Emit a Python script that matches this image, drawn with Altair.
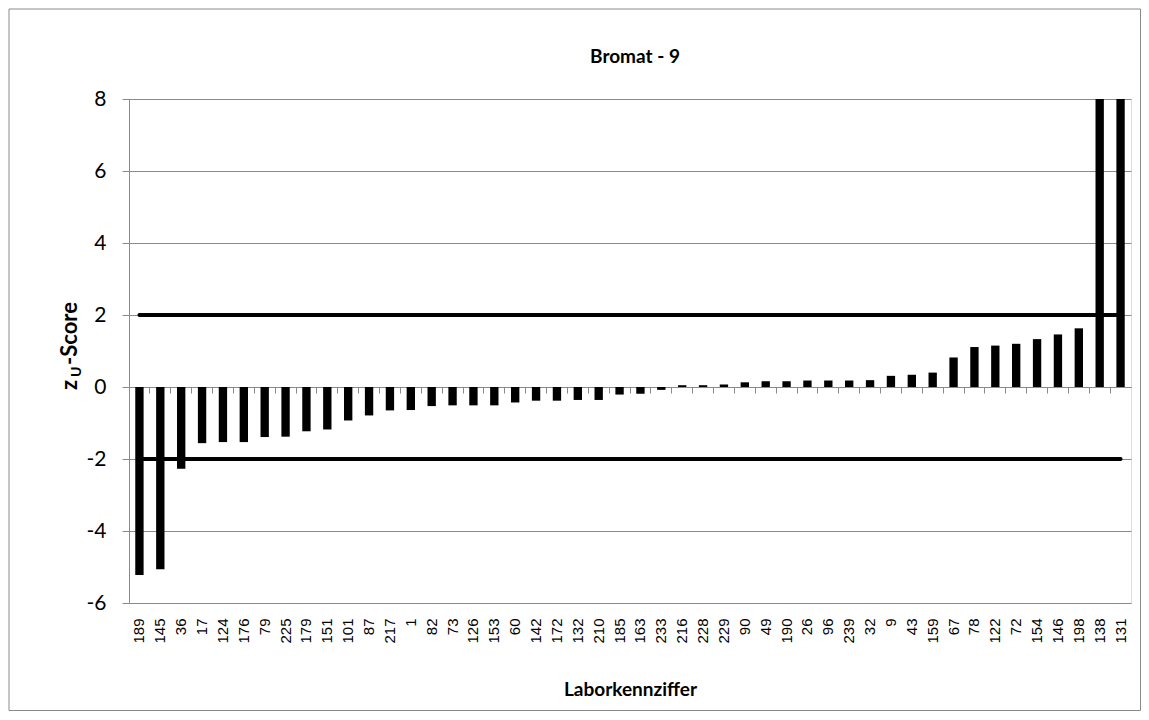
import altair as alt
import pandas as pd

# Laboratory codes (x categories, in plotted order)
labs = ["189", "145", "36", "17", "124", "176", "79", "225", "179", "151",
        "101", "87", "217", "1", "82", "73", "126", "153", "60", "142",
        "172", "132", "210", "185", "163", "233", "216", "228", "229", "90",
        "49", "190", "26", "96", "239", "32", "9", "43", "159", "67",
        "78", "122", "72", "154", "146", "198", "138", "131"]

# zU-scores (last two run off the top of the axis)
vals = [-5.22, -5.06, -2.27, -1.56, -1.53, -1.53, -1.39, -1.38, -1.23, -1.18,
        -0.93, -0.79, -0.65, -0.64, -0.53, -0.51, -0.51, -0.51, -0.43, -0.38,
        -0.38, -0.36, -0.36, -0.21, -0.19, -0.08, 0.05, 0.05, 0.07, 0.13,
        0.16, 0.16, 0.18, 0.18, 0.18, 0.19, 0.31, 0.34, 0.40, 0.82,
        1.11, 1.15, 1.20, 1.33, 1.46, 1.63, 10.5, 12.0]

limits = [2, -2]
y_ticks = [-6, -4, -2, 0, 2, 4, 6, 8]
chart_title = "Bromat - 9"

GRAY = "#8a8a8a"
FONT = "Lato"

df = pd.DataFrame({"lab": labs, "z": vals})
lim_rows = []
for i, v in enumerate(limits):
    for lab in (labs[0], labs[-1]):
        lim_rows.append({"lab": lab, "z": v, "s": f"lim{i}"})
lim_df = pd.DataFrame(lim_rows)

xscale = alt.Scale(domain=labs, paddingInner=0, paddingOuter=0)
yscale = alt.Scale(domain=[-6, 8], nice=False, zero=False)

border = alt.Chart(alt.Data(values=[{"k": 1}])).mark_rect(
    fill=None, stroke=GRAY, strokeWidth=1
).encode(
    x=alt.value(-120), x2=alt.value(1011.5),
    y=alt.value(-90), y2=alt.value(611.5)
)

bars = alt.Chart(df).mark_bar(color="black", width={"band": 0.4}, clip=True).encode(
    x=alt.X("lab:N", scale=xscale,
            axis=alt.Axis(title="Laborkennziffer", labelAngle=270,
                          labelAlign="right", labelBaseline="middle",
                          labelPadding=15, labelFont="Liberation Sans",
                          labelFontSize=15, labelColor="black",
                          domain=False, ticks=False, grid=False,
                          titleFont=FONT, titleFontSize=19,
                          titleFontWeight="bold", titleColor="black",
                          titlePadding=37)),
    y=alt.Y("z:Q", scale=yscale,
            axis=alt.Axis(values=y_ticks, title=None, grid=True,
                          gridColor=GRAY, gridWidth=1, domainColor=GRAY,
                          tickColor=GRAY, tickSize=7, labelFont=FONT,
                          labelFontSize=21, labelColor="black",
                          labelPadding=16,
                          labelExpr="'' + datum.value"))
)

lines = alt.Chart(lim_df).mark_line(
    color="black", strokeWidth=4, strokeCap="round"
).encode(
    x=alt.X("lab:N", scale=xscale,
            axis=alt.Axis(orient="bottom", offset=-216, labels=False,
                          ticks=True, tickSize=6, tickColor=GRAY,
                          domainColor=GRAY, bandPosition=0, grid=False,
                          title=None)),
    y=alt.Y("z:Q", scale=yscale),
    detail="s:N"
)

def text_piece(txt, x, y, size, angle=270, align="left", baseline="alphabetic"):
    return alt.Chart(alt.Data(values=[{"t": txt}])).mark_text(
        angle=angle, align=align, baseline=baseline,
        font=FONT, fontSize=size, fontWeight="bold", color="black"
    ).encode(x=alt.value(x), y=alt.value(y), text="t:N")

yt_z = text_piece("z", -52, 291, 22)
yt_u = text_piece("U", -48, 278, 14)
yt_s = text_piece("-Score", -52, 266, 22)
title = text_piece(chart_title, 506, -42, 19, angle=0, align="center",
                   baseline="middle")

chart = alt.layer(border, bars, lines, yt_z, yt_u, yt_s, title).resolve_axis(
    x="independent"
).properties(
    width=1002, height=504,
    autosize=alt.AutoSizeParams(type="none"),
    padding={"left": 121, "top": 91, "right": 10, "bottom": 108}
).configure_view(stroke=None).configure(background="white")

chart.save("out.html", embed_options={"renderer": "svg", "actions": False})
